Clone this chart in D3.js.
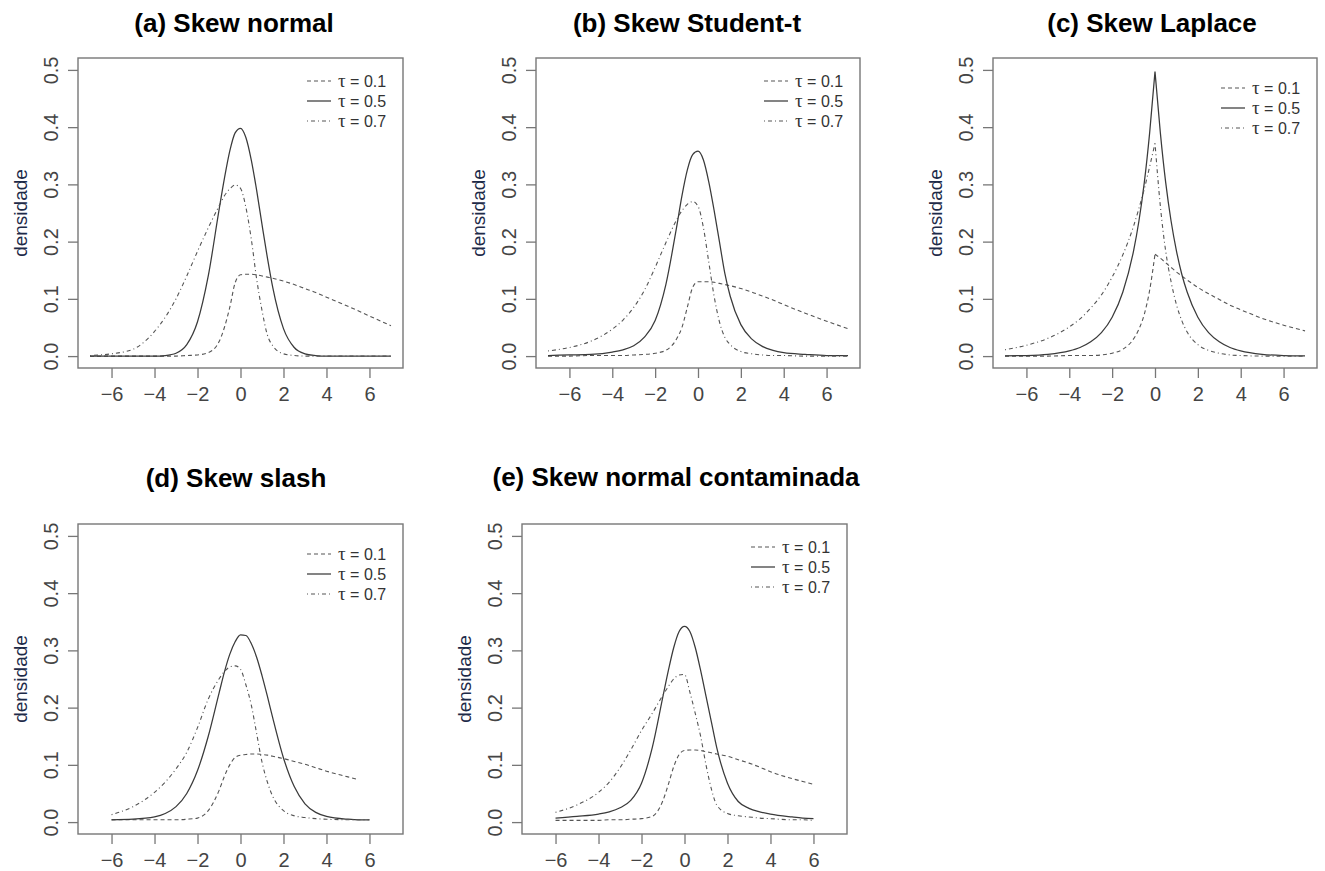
<!DOCTYPE html>
<html>
<head>
<meta charset="utf-8">
<script src="https://cdn.jsdelivr.net/npm/d3@7"></script>
<style>
  body { margin: 0; background: #fff; }
  svg { display: block; }
</style>
</head>
<body>
<div id="chart"></div>
<script>
// x grids the densities were read at
var xsWide = [-7, -6, -5, -4, -3.5, -3, -2.5, -2, -1.5, -1, -0.75, -0.5, -0.25, 0, 0.25, 0.5, 0.75, 1, 1.25, 1.5, 2, 2.5, 3, 3.5, 4, 5, 6, 7];
var xsNarrow = [-6, -5, -4, -3.5, -3, -2.5, -2, -1.5, -1, -0.75, -0.5, -0.25, 0, 0.25, 0.5, 0.75, 1, 1.25, 1.5, 2, 2.5, 3, 3.5, 4, 5, 5.5, 6];

// (a) skew normal
var normalT01 = [0, 0, 0, 0, 0, 0, 0.001, 0.002, 0.006, 0.025, 0.05, 0.085, 0.128, 0.142, 0.143, 0.143, 0.142, 0.14, 0.138, 0.136, 0.131, 0.125, 0.118, 0.111, 0.103, 0.087, 0.07, 0.053];
var normalT05 = [0, 0, 0, 0, 0.001, 0.005, 0.02, 0.06, 0.14, 0.255, 0.31, 0.358, 0.39, 0.398, 0.382, 0.343, 0.29, 0.23, 0.172, 0.12, 0.048, 0.015, 0.004, 0.001, 0, 0, 0, 0];
var normalT07 = [0.001, 0.004, 0.012, 0.043, 0.068, 0.1, 0.14, 0.183, 0.224, 0.262, 0.28, 0.292, 0.299, 0.293, 0.26, 0.205, 0.135, 0.08, 0.037, 0.018, 0.004, 0.001, 0, 0, 0, 0, 0, 0];

// (b) skew Student-t
var studentT01 = [0, 0, 0.001, 0.001, 0.001, 0.002, 0.003, 0.005, 0.01, 0.03, 0.05, 0.085, 0.12, 0.13, 0.13, 0.13, 0.129, 0.127, 0.125, 0.123, 0.118, 0.112, 0.105, 0.098, 0.09, 0.075, 0.061, 0.048];
var studentT05 = [0.001, 0.002, 0.003, 0.007, 0.011, 0.018, 0.033, 0.062, 0.125, 0.225, 0.28, 0.325, 0.352, 0.358, 0.343, 0.305, 0.255, 0.2, 0.145, 0.105, 0.055, 0.03, 0.017, 0.01, 0.006, 0.003, 0.001, 0.001];
var studentT07 = [0.009, 0.015, 0.026, 0.047, 0.063, 0.085, 0.115, 0.155, 0.198, 0.238, 0.254, 0.265, 0.27, 0.262, 0.225, 0.165, 0.105, 0.06, 0.033, 0.02, 0.008, 0.004, 0.002, 0.001, 0.001, 0, 0, 0];

// (c) skew Laplace
var laplaceT01 = [0, 0, 0, 0.001, 0.001, 0.001, 0.002, 0.005, 0.012, 0.03, 0.047, 0.073, 0.115, 0.178, 0.171, 0.163, 0.155, 0.147, 0.14, 0.133, 0.12, 0.109, 0.099, 0.089, 0.081, 0.066, 0.054, 0.044];
var laplaceT05 = [0.0005, 0.001, 0.003, 0.009, 0.015, 0.025, 0.041, 0.068, 0.112, 0.184, 0.236, 0.303, 0.39, 0.497, 0.39, 0.303, 0.236, 0.184, 0.143, 0.112, 0.068, 0.041, 0.025, 0.015, 0.009, 0.003, 0.001, 0.0005];
var laplaceT07 = [0.011, 0.019, 0.031, 0.051, 0.065, 0.084, 0.107, 0.138, 0.177, 0.227, 0.258, 0.292, 0.331, 0.372, 0.262, 0.183, 0.13, 0.09, 0.062, 0.042, 0.02, 0.01, 0.005, 0.002, 0.001, 0, 0, 0];

// (d) skew slash
var slashT01 = [0.004, 0.004, 0.004, 0.004, 0.004, 0.005, 0.007, 0.02, 0.055, 0.08, 0.1, 0.113, 0.117, 0.118, 0.119, 0.119, 0.118, 0.117, 0.115, 0.111, 0.106, 0.101, 0.095, 0.089, 0.079, 0.074, null];
var slashT05 = [0.004, 0.005, 0.009, 0.015, 0.027, 0.05, 0.09, 0.15, 0.225, 0.262, 0.293, 0.315, 0.327, 0.326, 0.312, 0.288, 0.256, 0.22, 0.182, 0.112, 0.062, 0.032, 0.017, 0.01, 0.005, 0.004, 0.004];
var slashT07 = [0.013, 0.027, 0.052, 0.07, 0.093, 0.122, 0.165, 0.215, 0.25, 0.263, 0.271, 0.273, 0.267, 0.24, 0.205, 0.155, 0.105, 0.07, 0.045, 0.02, 0.011, 0.008, 0.006, 0.005, 0.004, 0.004, 0.004];

// (e) skew contaminated normal
var contamT01 = [0.003, 0.003, 0.003, 0.004, 0.004, 0.005, 0.006, 0.01, 0.038, 0.066, 0.097, 0.118, 0.125, 0.126, 0.126, 0.125, 0.123, 0.121, 0.119, 0.115, 0.109, 0.103, 0.096, 0.088, 0.076, 0.071, 0.066];
var contamT05 = [0.007, 0.01, 0.014, 0.018, 0.025, 0.038, 0.068, 0.13, 0.22, 0.265, 0.305, 0.333, 0.342, 0.333, 0.305, 0.265, 0.22, 0.175, 0.13, 0.068, 0.036, 0.024, 0.018, 0.014, 0.009, 0.007, 0.006];
var contamT07 = [0.017, 0.03, 0.052, 0.07, 0.095, 0.126, 0.16, 0.19, 0.222, 0.237, 0.25, 0.257, 0.258, 0.227, 0.19, 0.15, 0.1, 0.058, 0.03, 0.015, 0.011, 0.009, 0.007, 0.006, 0.004, 0.004, 0.003];

var titles = ['(a) Skew normal', '(b) Skew Student-t', '(c) Skew Laplace', '(d) Skew slash', '(e) Skew normal contaminada'];
var tauLabels = ['0.1', '0.5', '0.7'];
var xTicks = [-6, -4, -2, 0, 2, 4, 6];
var yTicks = [0, 0.1, 0.2, 0.3, 0.4, 0.5];

(function(){
  'use strict';

  var svg = d3.select('#chart').append('svg')
    .attr('width', 1325)
    .attr('height', 871);

  //----- box = [left, top, right, bottom]
  var panels = [
    {xs: xsWide,   series: [normalT01, normalT05, normalT07],   box: [78, 58, 403, 368],   titleX: 234,  titleY: 32,  legDy: 23, cusp: false},
    {xs: xsWide,   series: [studentT01, studentT05, studentT07], box: [536, 58, 860, 368],  titleX: 687,  titleY: 32,  legDy: 23, cusp: false},
    {xs: xsWide,   series: [laplaceT01, laplaceT05, laplaceT07], box: [993, 58, 1317, 368], titleX: 1152, titleY: 32,  legDy: 30, cusp: true},
    {xs: xsNarrow, series: [slashT01, slashT05, slashT07],       box: [78, 524, 403, 834],  titleX: 236,  titleY: 487, legDy: 30, cusp: false},
    {xs: xsNarrow, series: [contamT01, contamT05, contamT07],    box: [522, 524, 847, 834], titleX: 676,  titleY: 486, legDy: 23, cusp: false}
  ];

  //----- dashed, solid, dot-dash
  var styles = [
    {dash: '4,3',     color: '#555', width: 1.1},
    {dash: null,      color: '#3a3a3a', width: 1.25},
    {dash: '1,3,4,3', color: '#555', width: 1.1}
  ];

  var FONT = '"Liberation Sans", Arial, Helvetica, sans-serif';
  var AXIS_COLOR = '#777';

  panels.forEach(function(p, i) {
    drawPanel(p, titles[i]);
  });


  function drawPanel(p, title) {
    var left = p.box[0], top = p.box[1], right = p.box[2], bottom = p.box[3];

    var x = d3.scaleLinear().domain([-7.56, 7.56]).range([left, right]);
    var y = d3.scaleLinear().domain([-0.0208, 0.5208]).range([bottom, top]);

    var g = svg.append('g');

    //---- curves
    var line = d3.line()
      .defined(function(d) { return d[1] !== null; })
      .x(function(d) { return x(d[0]); })
      .y(function(d) { return y(d[1]); })
      .curve(d3.curveMonotoneX);

    p.series.forEach(function(vals, k) {
      var pts = p.xs.map(function(v, j) { return [v, vals[j]]; });
      var d;
      if (p.cusp) {
        // laplace: keep the peak sharp, smooth each side on its own
        d = line(pts.filter(function(q) { return q[0] <= 0; })) +
            line(pts.filter(function(q) { return q[0] >= 0; }));
      } else {
        d = line(pts);
      }
      g.append('path')
        .attr('d', d)
        .attr('fill', 'none')
        .attr('stroke', styles[k].color)
        .attr('stroke-width', styles[k].width)
        .attr('stroke-dasharray', styles[k].dash);
    });

    //---- x axis
    var xAxis = g.append('g')
      .attr('transform', 'translate(0,' + bottom + ')')
      .call(d3.axisBottom(x).tickValues(xTicks).tickSize(10).tickPadding(9));
    styleAxis(xAxis);

    //---- y axis, labels turned like R does
    var yAxis = g.append('g')
      .attr('transform', 'translate(' + left + ',0)')
      .call(d3.axisLeft(y).tickValues(yTicks).tickSize(10).tickFormat(d3.format('.1f')));
    styleAxis(yAxis);
    yAxis.selectAll('.tick text')
      .attr('x', 0)
      .attr('dy', 0)
      .attr('text-anchor', 'middle')
      .attr('transform', 'translate(-20,0) rotate(-90)');

    //---- box
    g.append('rect')
      .attr('x', left)
      .attr('y', top)
      .attr('width', right - left)
      .attr('height', bottom - top)
      .attr('fill', 'none')
      .attr('stroke', AXIS_COLOR)
      .attr('stroke-width', 1.4);

    //---- y label
    var cy = (top + bottom) / 2;
    g.append('text')
      .attr('transform', 'translate(' + (left - 51) + ',' + cy + ') rotate(-90)')
      .attr('text-anchor', 'middle')
      .attr('font-family', FONT)
      .attr('font-size', 19)
      .attr('fill', '#1d2a48')
      .text('densidade');

    //---- title
    g.append('text')
      .attr('x', p.titleX)
      .attr('y', p.titleY)
      .attr('text-anchor', 'middle')
      .attr('font-family', FONT)
      .attr('font-weight', 'bold')
      .attr('font-size', 26)
      .attr('fill', '#000')
      .text(title);

    //---- legend
    var lx = right - 96;
    var leg = g.append('g');
    styles.forEach(function(s, k) {
      var ly = top + p.legDy + k * 20;
      leg.append('line')
        .attr('x1', lx)
        .attr('x2', lx + 24)
        .attr('y1', ly)
        .attr('y2', ly)
        .attr('stroke', s.color)
        .attr('stroke-width', s.width)
        .attr('stroke-dasharray', s.dash);
      var t = leg.append('text')
        .attr('x', lx + 31)
        .attr('y', ly + 6)
        .attr('font-family', FONT)
        .attr('font-size', 16)
        .attr('fill', '#333');
      t.append('tspan')
        .attr('font-family', '"Liberation Serif", "DejaVu Serif", serif')
        .attr('font-size', 19)
        .text('\u03c4');
      t.append('tspan').text(' = ' + tauLabels[k]);
    });
  }


  function styleAxis(a) {
    a.select('.domain').remove();
    a.selectAll('.tick line')
      .attr('stroke', AXIS_COLOR)
      .attr('stroke-width', 1.3);
    a.selectAll('.tick text')
      .attr('font-family', FONT)
      .attr('font-size', 20)
      .attr('fill', '#444');
  }

})();
</script>
</body>
</html>
